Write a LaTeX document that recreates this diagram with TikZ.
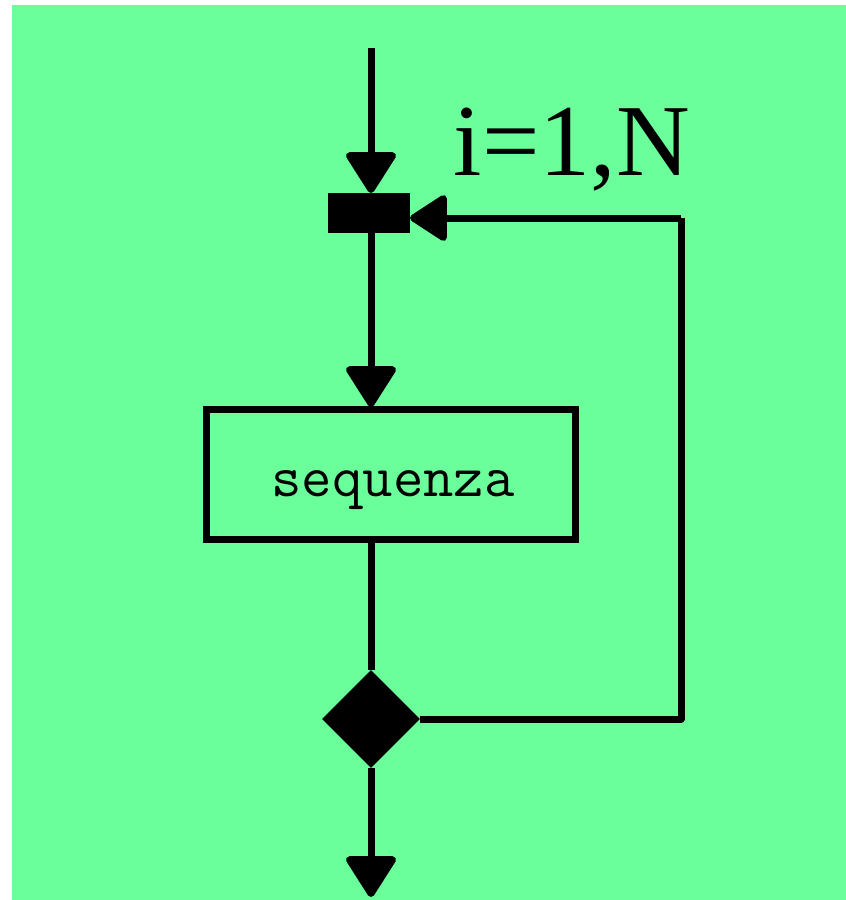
\documentclass[tikz,border=0pt]{standalone}
\usepackage{fontspec}
\setmainfont{Liberation Serif}
\usetikzlibrary{arrows.meta,shapes.geometric}
\definecolor{bggreen}{RGB}{107,255,155}
\tikzset{
  conn/.style={line width=7pt},
  tip/.style={-{Triangle[length=44pt,width=54pt,round]}},
  lefttip/.style={-{Triangle[length=40pt,width=50pt,round]}},
}
\begin{document}
\begin{tikzpicture}[x=1pt,y=-1pt]
\useasboundingbox (0,0) rectangle (846,900);
\fill[bggreen] (12,5) rectangle (846,900);
\coordinate (start) at (371,48);
\node[fill=black,inner sep=0pt,minimum width=82pt,minimum height=40pt] (junc) at (369,213) {};
\node[draw,line width=7pt,inner sep=0pt,minimum width=369pt,minimum height=130pt] (seq) at (390.5,474) {};
\node[font=\ttfamily\fontsize{59}{62}\selectfont,anchor=base] (seqtext) at (393,496) {sequenza};
\node[diamond,fill=black,inner sep=0pt,minimum width=98pt,minimum height=98pt] (dec) at (371,719) {};
\coordinate (corner1) at (681,719);
\coordinate (corner2) at (681,218);
\coordinate (endpt) at (371,897);
\node[font=\fontsize{102}{110}\selectfont,anchor=base] (lab) at (572,175) {i=1,N};
\draw[conn,tip] (start) -- (371,193);
\draw[conn,tip] (371,233) -- (371,407);
\draw[conn] (371,542) -- (dec.north);
\draw[conn,line join=round] (dec.east) -- (corner1) -- (corner2);
\draw[conn,lefttip] (corner2) -- (410,218);
\draw[conn,tip] (dec.south) -- (endpt);
\end{tikzpicture}
\end{document}
